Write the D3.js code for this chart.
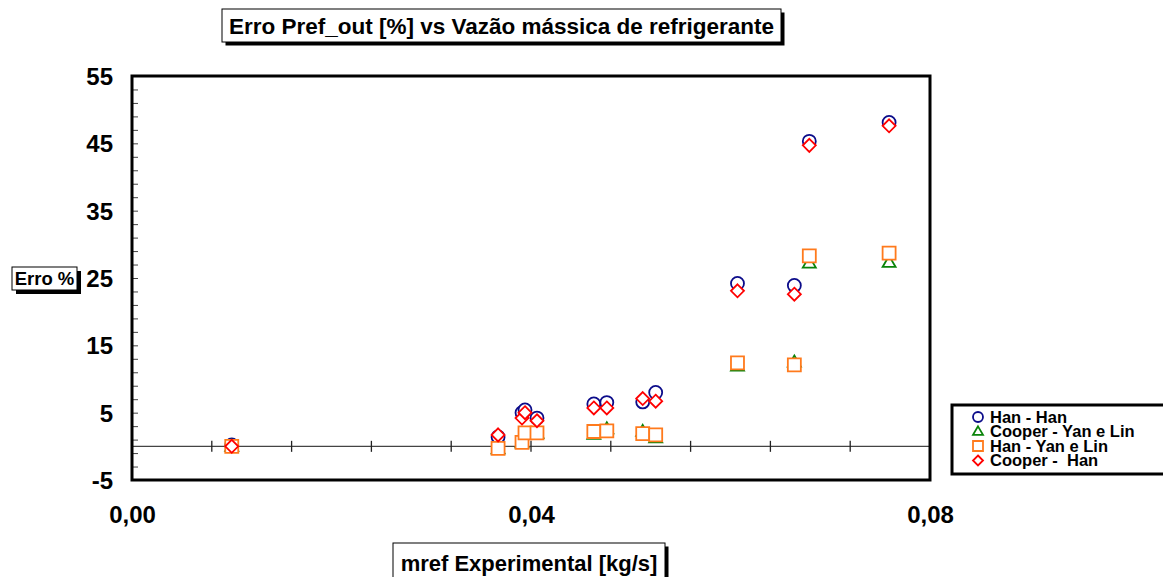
<!DOCTYPE html>
<html>
<head>
<meta charset="utf-8">
<script src="https://cdn.jsdelivr.net/npm/d3@7"></script>
<style>
  html, body { margin: 0; padding: 0; background: #fff; }
  svg { display: block; font-family: "Liberation Sans", Arial, sans-serif; font-weight: bold; }
</style>
</head>
<body>
<svg id="chart" width="1163" height="577"></svg>
<script>
// Mass flow of refrigerant (kg/s)
const mref = [0.0100, 0.0367, 0.0391, 0.0394, 0.0406, 0.0463, 0.0476, 0.0512, 0.0525, 0.0607, 0.0664, 0.0679, 0.0759];

// Pref_out error (%) for each model combination
const hanHan       = [0.2, 1.4, 5.0, 5.4, 4.2, 6.3, 6.5, 6.6, 8.0, 24.2, 23.9, 45.3, 48.1];
const cooperYanLin = [0.0, -0.4, 0.5, 1.8, 1.9, 1.75, 2.6, 2.2, 1.25, 11.9, 12.5, 27.2, 27.3];
const hanYanLin    = [0.0, -0.3, 0.6, 2.0, 2.0, 2.2, 2.3, 1.9, 1.7, 12.4, 12.1, 28.3, 28.7];
const cooperHan    = [0.0, 1.7, 4.2, 5.0, 3.8, 5.7, 5.7, 7.1, 6.7, 23.1, 22.6, 44.7, 47.6];

const seriesNames = ["Han - Han", "Cooper - Yan e Lin", "Han - Yan e Lin", "Cooper -  Han"];
const yTickValues = [-5, 5, 15, 25, 35, 45, 55];
const xTickValues = [0.00, 0.04, 0.08];

const series = [
  { name: seriesNames[0], values: hanHan,       shape: "circle",   color: "#0c0c8a" },
  { name: seriesNames[1], values: cooperYanLin, shape: "triangle", color: "#0a840a" },
  { name: seriesNames[2], values: hanYanLin,    shape: "square",   color: "#ff7a1c" },
  { name: seriesNames[3], values: cooperHan,    shape: "diamond",  color: "#ff0000" }
];

const svg = d3.select("#chart");
const plot = { left: 132, right: 930, top: 76, bottom: 480 };

const x = d3.scaleLinear().domain([0, 0.08]).range([plot.left, plot.right]);
const y = d3.scaleLinear().domain([-5, 55]).range([plot.bottom, plot.top]);

const fmtX = d => d3.format(".2f")(d).replace(".", ",");
const fmtY = d => String(d);

// Marker path builder, s = half size
function markerPath(shape, s) {
  const p = d3.path();
  if (shape === "circle") {
    p.moveTo(s, 0); p.arc(0, 0, s, 0, 2 * Math.PI);
  } else if (shape === "square") {
    p.rect(-s, -s, 2 * s, 2 * s);
  } else if (shape === "diamond") {
    p.moveTo(0, -s); p.lineTo(s, 0); p.lineTo(0, s); p.lineTo(-s, 0); p.closePath();
  } else if (shape === "triangle") {
    const h = s * 1.7;
    p.moveTo(0, -h * 0.6); p.lineTo(s, h * 0.4); p.lineTo(-s, h * 0.4); p.closePath();
  }
  return p.toString();
}

// Zero reference line
svg.append("line")
  .attr("x1", plot.left).attr("x2", plot.right)
  .attr("y1", y(0)).attr("y2", y(0))
  .attr("stroke", "#444").attr("stroke-width", 1.2);

// Ticks on zero line every 0.008
const zeroTicks = d3.range(1, 10).map(i => i * 0.008);
svg.append("g").selectAll("line").data(zeroTicks).join("line")
  .attr("x1", d => x(d)).attr("x2", d => x(d))
  .attr("y1", y(0) - 5.5).attr("y2", y(0) + 5.5)
  .attr("stroke", "#222").attr("stroke-width", 1.3);

// Minor y ticks (inside, every 2 units)
svg.append("g")
  .attr("transform", `translate(${plot.left},0)`)
  .call(d3.axisRight(y).tickValues(d3.range(-5, 55.01, 2).filter(v => v > -5 && v < 55)).tickSize(6).tickFormat(""))
  .call(g => g.select(".domain").remove())
  .call(g => g.selectAll("line").attr("stroke", "#444").attr("stroke-width", 1));

// Y tick labels
svg.append("g")
  .attr("transform", `translate(${plot.left - 19},0)`)
  .call(d3.axisLeft(y).tickValues(yTickValues).tickSize(0).tickPadding(0).tickFormat(fmtY))
  .call(g => g.select(".domain").remove())
  .call(g => g.selectAll("text").attr("font-size", 24).attr("font-weight", "bold")
    .attr("font-family", "Liberation Sans, Arial, sans-serif").attr("fill", "#000").attr("dy", "0.35em"));

// X tick labels
svg.append("g")
  .attr("transform", `translate(0,${plot.bottom + 35})`)
  .call(d3.axisBottom(x).tickValues(xTickValues).tickSize(0).tickPadding(0).tickFormat(fmtX))
  .call(g => g.select(".domain").remove())
  .call(g => g.selectAll("text").attr("font-size", 24).attr("font-weight", "bold")
    .attr("font-family", "Liberation Sans, Arial, sans-serif").attr("fill", "#000").attr("dy", "0.35em"));

// Data markers, white-filled, drawn in series order so later series cover earlier ones
series.forEach(s => {
  svg.append("g").selectAll("path").data(s.values.map((v, i) => [mref[i], v])).join("path")
    .attr("d", markerPath(s.shape, 6.5))
    .attr("transform", d => `translate(${x(d[0])},${y(d[1])})`)
    .attr("fill", "#fff")
    .attr("stroke", s.color).attr("stroke-width", 1.8);
});

// Plot frame
svg.append("rect")
  .attr("x", plot.left).attr("y", plot.top)
  .attr("width", plot.right - plot.left).attr("height", plot.bottom - plot.top)
  .attr("fill", "none").attr("stroke", "#000").attr("stroke-width", 3);

// Boxed label with drop shadow
function shadowBox(bx, by, bw, bh, text, size, shadow) {
  const g = svg.append("g");
  g.append("rect").attr("x", bx + shadow).attr("y", by + shadow).attr("width", bw).attr("height", bh).attr("fill", "#000");
  g.append("rect").attr("x", bx).attr("y", by).attr("width", bw).attr("height", bh)
    .attr("fill", "#fff").attr("stroke", "#000").attr("stroke-width", 1);
  g.append("text").attr("x", bx + bw / 2).attr("y", by + bh / 2).attr("dy", "0.36em")
    .attr("text-anchor", "middle").attr("font-size", size).attr("font-weight", "bold").text(text);
}

shadowBox(222, 9, 559, 33, "Erro Pref_out [%] vs Vazão mássica de refrigerante", 22.5, 3.5);
shadowBox(12, 267, 65, 23, "Erro %", 18.5, 4);
shadowBox(393, 543, 272, 40, "mref Experimental [kg/s]", 22, 3.5);

// Legend
const legend = svg.append("g");
legend.append("rect").attr("x", 952).attr("y", 405).attr("width", 230).attr("height", 69)
  .attr("fill", "#fff").attr("stroke", "#000").attr("stroke-width", 3);
series.forEach((s, i) => {
  const ly = 417 + i * 14.5;
  legend.append("path").attr("d", markerPath(s.shape, 5))
    .attr("transform", `translate(978,${ly})`)
    .attr("fill", "none").attr("stroke", s.color).attr("stroke-width", 1.8);
  legend.append("text").attr("x", 990).attr("y", ly).attr("dy", "0.36em")
    .attr("font-size", 16.5).attr("font-weight", "bold").attr("xml:space", "preserve")
    .style("white-space", "pre").text(s.name);
});
</script>
</body>
</html>
